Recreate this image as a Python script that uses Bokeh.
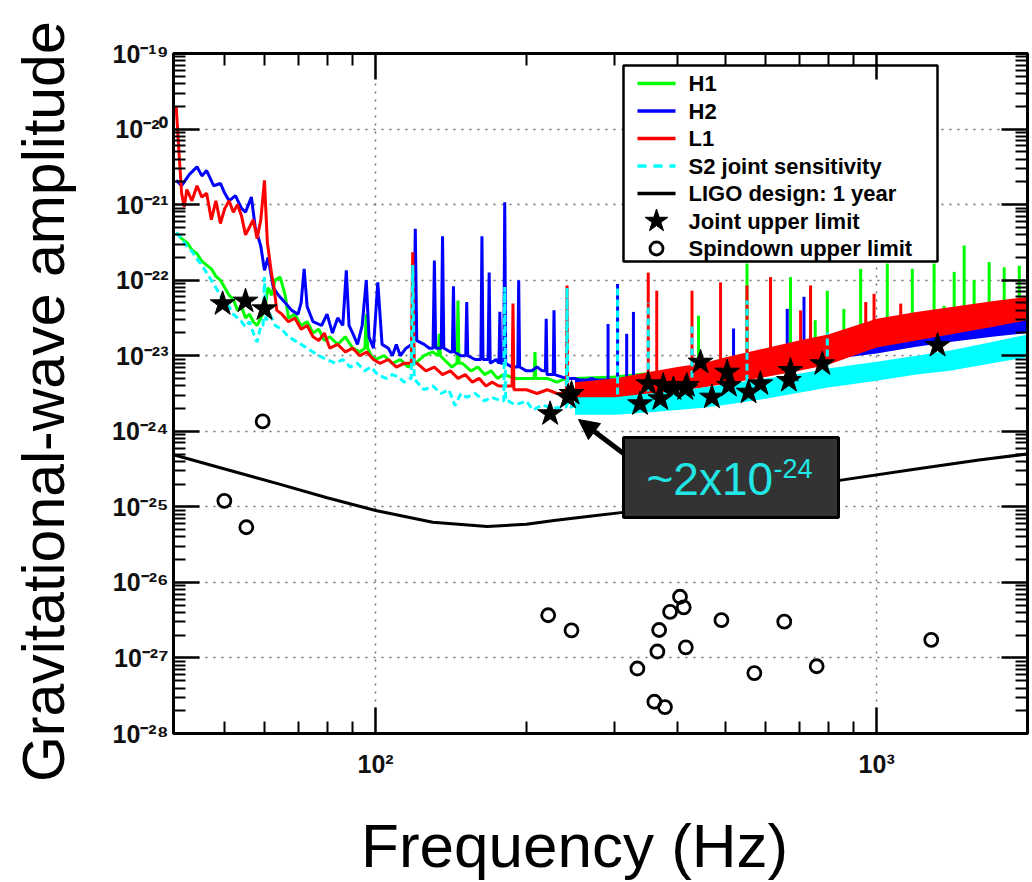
import numpy as np
from bokeh.plotting import figure
from bokeh.models import (FixedTicker, LogAxis, Arrow, NormalHead, Range1d)
from bokeh.core.properties import value
from bokeh.embed import file_html
from bokeh.resources import INLINE

# ---------------- data (amplitudes given as log10 values) ----------------
h1_f = [40, 41, 42, 43, 44, 45, 46, 47, 48, 49, 50, 51, 52, 53, 54, 55, 56, 57, 58, 59, 60, 61, 62, 63,
        64.5, 66, 67, 69, 71, 73, 75, 77, 79, 81, 84, 87, 90, 93, 95.2, 95.8, 96.4, 98, 100, 104, 108, 112,
        116, 120, 125, 130, 133.3, 134, 134.7, 137, 142, 145.3, 146, 146.7, 149, 155, 160, 165, 170, 175,
        180, 190, 200, 207.3, 208, 208.7, 212, 220, 230, 240, 250, 300, 400, 500, 700, 1000, 1400, 2000]
h1_log = [-21.37, -21.45, -21.5, -21.6, -21.65, -21.75, -21.8, -21.85, -21.95, -22.0, -22.1, -22.2, -22.25,
          -22.4, -22.35, -22.5, -22.45, -22.55, -22.6, -22.5, -22.4, -22.1, -22.2, -22.0, -21.96, -22.2,
          -22.5, -22.45, -22.6, -22.55, -22.7, -22.65, -22.8, -22.75, -22.85, -22.75, -22.9, -22.95, -22.9,
          -22.45, -22.9, -23.0, -23.05, -23.0, -23.1, -23.05, -23.15, -23.1, -23.0, -22.95, -23.0, -22.71,
          -23.0, -23.05, -23.15, -23.1, -22.27, -23.1, -23.1, -23.2, -23.15, -23.25, -23.2, -23.3, -23.25,
          -23.3, -23.3, -23.3, -22.95, -23.3, -23.3, -23.3, -23.35, -23.3, -23.3, -23.28, -23.2, -23.05,
          -22.9, -22.7, -22.55, -22.4]
h1_spike_f = [441, 551, 673, 754, 797, 860, 929, 1050, 1178, 1302, 1363, 1428, 1495, 1565, 1677, 1797, 1926]
h1_spike_top = [-22.47, -21.78, -21.96, -22.53, -22.14, -22.38, -21.85, -21.78, -21.85, -21.78, -22.34,
                -21.89, -21.54, -22.0, -21.76, -21.83, -21.81]
h1_spike_base = [-23.2, -23.05, -22.95, -22.9, -22.85, -22.8, -22.75, -22.7, -22.65, -22.6, -22.58, -22.56,
                 -22.54, -22.5, -22.47, -22.43, -22.4]

h2_f = [40, 41, 42.5, 44, 45, 46, 47.5, 49, 50, 51, 52.5, 54, 55, 56.5, 57.5, 59, 60, 61, 62.5, 64, 66, 68,
        70, 71, 72, 73, 75, 78, 80, 82, 84, 86, 87.4, 88.5, 90, 92, 94, 95.8, 97, 99, 101, 103, 106, 108,
        110, 112, 115, 118, 119.2, 120, 120.8, 125, 128, 130.2, 131, 131.8, 135.2, 136, 136.8, 141, 142.3,
        143, 143.7, 148, 151.3, 152, 152.7, 158, 162.2, 163, 163.8, 167.7, 168.5, 169.3, 174, 176.3, 177,
        177.7, 180.2, 181, 181.8, 187, 192.2, 193, 193.8, 200, 205, 210, 215, 218.2, 219, 219.8, 226.2,
        227, 227.8, 240, 250, 260, 270, 280, 300, 350, 400, 450, 500, 600, 700, 800, 1000, 1200, 1400,
        1700, 2000]
h2_log = [-20.68, -20.75, -20.6, -20.5, -20.62, -20.55, -20.75, -20.72, -20.85, -20.95, -20.88, -21.05,
          -21.1, -20.9, -21.3, -21.55, -21.87, -21.7, -22.1, -22.2, -22.3, -22.4, -22.45, -22.3, -21.85,
          -22.35, -22.55, -22.6, -22.45, -22.7, -22.5, -22.6, -21.87, -22.6, -22.7, -22.85, -22.6, -22.0,
          -22.75, -22.9, -22.03, -22.85, -22.9, -23.0, -22.85, -23.0, -22.9, -22.85, -22.8, -21.32, -22.8,
          -22.85, -22.9, -22.9, -21.74, -22.9, -22.9, -21.42, -22.9, -22.95, -22.95, -22.08, -22.95, -23.0,
          -23.0, -22.29, -23.0, -23.05, -23.05, -21.42, -23.05, -23.05, -21.9, -23.1, -23.05, -23.1, -22.42,
          -23.1, -23.1, -20.97, -23.1, -23.15, -23.15, -22.0, -23.15, -23.2, -23.2, -23.15, -23.2, -23.2,
          -22.51, -23.25, -23.25, -22.4, -23.25, -23.3, -23.3, -23.35, -23.3, -23.35, -23.38, -23.33,
          -23.29, -23.25, -23.2, -23.1, -23.02, -22.95, -22.86, -22.78, -22.71, -22.63, -22.57]
h2_spike_f = [291, 304, 317, 327, 518, 663, 716]
h2_spike_top = [-22.58, -22.05, -22.71, -22.42, -22.64, -22.38, -22.22]
h2_spike_base = [-23.36, -23.38, -23.37, -23.36, -23.19, -23.06, -23.02]

l1_f = [40, 40.5, 41, 41.5, 42, 43, 44, 45, 46, 47, 48, 49, 50, 51, 52, 53, 54, 55, 56, 57, 58, 59, 60,
        60.8, 62, 62.7, 63.5, 65, 67, 69, 71, 73, 75, 77, 79, 81, 84, 87, 90, 93, 96, 99, 102, 106, 110,
        114, 117.8, 118.6, 119.4, 121, 126, 131, 136, 141, 146, 151, 156, 161, 166, 171, 176, 181, 184,
        187.2, 188, 188.8, 191, 200, 210, 220, 230, 240.2, 241, 241.8, 245, 250, 300, 350, 400, 450, 500,
        600, 700, 800, 1000, 1200, 1400, 1700, 2000]
l1_log = [-19.71, -20.3, -20.85, -21.03, -20.8, -20.95, -20.75, -20.9, -20.85, -21.2, -20.95, -21.25,
          -21.05, -20.95, -21.1, -21.0, -21.15, -21.4, -21.3, -21.2, -21.45, -21.2, -20.68, -21.5, -21.92,
          -22.1, -22.4, -22.45, -22.55, -22.5, -22.65, -22.6, -22.75, -22.8, -22.7, -22.9, -22.85, -22.95,
          -22.9, -23.0, -22.95, -23.05, -23.1, -23.05, -23.15, -23.1, -23.1, -21.63, -23.1, -23.1, -23.2,
          -23.15, -23.25, -23.2, -23.3, -23.25, -23.35, -23.3, -23.4, -23.35, -23.4, -23.4, -23.4, -23.4,
          -22.31, -23.45, -23.45, -23.45, -23.5, -23.45, -23.5, -23.5, -22.07, -23.5, -23.5, -23.48,
          -23.45, -23.37, -23.31, -23.26, -23.2, -23.09, -23.0, -22.92, -22.7, -22.61, -22.54, -22.45,
          -22.38]
l1_spike_f = [350, 364, 428, 488, 551, 614, 705, 738, 951, 988, 1117]
l1_spike_top = [-21.9, -22.14, -22.14, -22.03, -22.07, -21.96, -22.4, -22.07, -22.29, -22.18, -22.31]
l1_spike_base = [-23.37, -23.35, -23.28, -23.21, -23.14, -23.08, -23.0, -22.98, -22.72, -22.7, -22.65]

s2_f = [40, 41, 42, 43, 44, 45, 46, 47, 48, 49, 50, 51, 52, 53, 54, 55, 56, 57, 58, 59, 59.6, 60, 60.4,
        61.5, 63, 65, 67, 69, 71, 73, 75, 77, 80, 83, 86, 89, 92, 95, 98, 101, 105, 108, 111, 114, 117,
        117.8, 118.6, 119.4, 121, 125, 130, 135, 140, 144, 148, 152, 158, 165, 170, 177, 180.2, 181, 181.8,
        184, 190, 200, 206, 215, 225, 235, 240.2, 241, 241.8, 245, 250, 300, 350, 400, 450, 500, 600, 700,
        800, 1000, 1200, 1400, 1700, 2000]
s2_log = [-21.37, -21.45, -21.55, -21.62, -21.72, -21.8, -21.9, -22.0, -22.1, -22.2, -22.3, -22.35, -22.45,
          -22.5, -22.55, -22.62, -22.55, -22.7, -22.82, -22.6, -22.6, -21.96, -22.53, -22.45, -22.6, -22.65,
          -22.75, -22.8, -22.85, -22.9, -22.95, -23.0, -23.05, -23.1, -23.05, -23.15, -23.1, -23.2, -23.15,
          -23.25, -23.3, -23.25, -23.28, -23.35, -23.3, -23.3, -21.8, -23.3, -23.35, -23.45, -23.4, -23.5,
          -23.45, -23.66, -23.5, -23.55, -23.5, -23.6, -23.55, -23.59, -23.6, -22.09, -23.6, -23.6, -23.65,
          -23.6, -23.72, -23.65, -23.7, -23.68, -23.68, -22.1, -23.68, -23.68, -23.66, -23.66, -23.62,
          -23.6, -23.55, -23.5, -23.43, -23.36, -23.3, -23.2, -23.12, -23.06, -22.96, -22.87]
s2_spike_f = [304, 350, 428, 551, 797]
s2_spike_top = [-22.09, -22.3, -22.57, -22.27, -22.69]
s2_spike_base = [-23.66, -23.62, -23.58, -23.49, -23.3]

# dense-noise bands above ~250 Hz (lower / upper edges)
band_f = [250, 300, 350, 400, 450, 500, 600, 700, 800, 1000, 1200, 1400, 1700, 2000]
l1_band_lo = [-23.62, -23.6, -23.52, -23.47, -23.42, -23.37, -23.28, -23.2, -23.12, -22.89, -22.8, -22.72, -22.62, -22.53]
l1_band_hi = [-23.35, -23.3, -23.22, -23.15, -23.1, -23.02, -22.9, -22.8, -22.72, -22.51, -22.42, -22.36, -22.28, -22.22]
h2_band_lo = [-23.45, -23.45, -23.4, -23.38, -23.35, -23.3, -23.2, -23.12, -23.05, -22.97, -22.88, -22.82, -22.75, -22.7]
h2_band_hi = [-23.3, -23.3, -23.25, -23.2, -23.15, -23.1, -23.0, -22.92, -22.85, -22.75, -22.67, -22.6, -22.52, -22.45]
s2_band_lo = [-23.78, -23.78, -23.75, -23.72, -23.69, -23.65, -23.57, -23.49, -23.42, -23.33, -23.25, -23.2, -23.1, -23.02]
s2_band_hi = [-23.55, -23.55, -23.5, -23.47, -23.42, -23.38, -23.3, -23.24, -23.17, -23.08, -23.0, -22.93, -22.82, -22.72]

design_f = [39.5, 50, 64, 80, 100, 130, 167, 200, 227, 270, 315, 400, 500, 650, 843, 1200, 1600, 2000]
design_log = [-24.31, -24.5, -24.696, -24.88, -25.049, -25.204, -25.26, -25.23, -25.18, -25.12, -25.07,
              -24.97, -24.87, -24.76, -24.65, -24.5, -24.38, -24.30]

joint_f = [49.5, 55, 60, 223, 242, 246, 337, 350, 370, 375, 393, 415, 418, 445, 469, 503, 507, 555, 586,
           668, 673, 779, 1323]
joint_log = [-22.313, -22.278, -22.38, -23.769, -23.549, -23.5, -23.637, -23.372, -23.571, -23.394, -23.438,
             -23.438, -23.394, -23.086, -23.549, -23.218, -23.394, -23.483, -23.372, -23.328, -23.196,
             -23.107, -22.865]

spin_f = [59.5, 49.9, 55.2, 221, 246, 333, 360, 378, 365, 368, 387, 405, 412, 416, 490, 570, 654, 759, 1285]
spin_log = [-23.87, -24.92, -25.27, -26.435, -26.635, -27.14, -27.58, -27.65, -26.915, -26.63, -26.39,
            -26.19, -26.33, -26.86, -26.50, -27.20, -26.52, -27.11, -26.76]

legend_labels = ["H1", "H2", "L1", "S2 joint sensitivity", "LIGO design: 1 year",
                 "Joint upper limit", "Spindown upper limit"]

y_decades = list(range(-28, -18))
x_decades = [2, 3]

# ---------------- helpers ----------------
X0, X1 = 39.5, 2000.0
FRAME_L, FRAME_T, FW, FH = 173, 53, 854, 680


def amp(a):
    return np.power(10.0, np.array(a, dtype=float))


def px_x(page_x):
    lx0, lx1 = np.log10(X0), np.log10(X1)
    return 10 ** (lx0 + (page_x - FRAME_L) / FW * (lx1 - lx0))


def px_y(page_y):
    return 10 ** (-28 + (FRAME_T + FH - page_y) / FH * 9)


SUP = str.maketrans("0123456789-", "\u2070\u00b9\u00b2\u00b3\u2074\u2075\u2076\u2077\u2078\u2079\u207b")


def sup(s):
    return s.translate(SUP)


GREEN, BLUE, RED, CYAN = "#00ff00", "#0000ff", "#ff0000", "#00ffff"
FONT = "Liberation Sans"
NB = "\u00a0"

p = figure(frame_width=FW, frame_height=FH, x_axis_type="log", y_axis_type="log",
           x_range=Range1d(X0, X1), y_range=Range1d(1e-28, 1e-19),
           output_backend="svg", toolbar_location=None,
           min_border_left=FRAME_L, min_border_right=5, min_border_top=FRAME_T, min_border_bottom=149)
p.outline_line_color = "black"
p.outline_line_width = 3
p.background_fill_color = "white"
p.border_fill_color = "white"

y_major = [float("1e%d" % k) for k in y_decades]
y_minor = [m * float("1e%d" % k) for k in y_decades[:-1] for m in range(2, 10)]
x_major = [10 ** k for k in x_decades]
x_minor = [50, 60, 70, 80, 90, 200, 300, 400, 500, 600, 700, 800, 900, 2000]


def style_axis(ax, major, minor, labels=None):
    ax.ticker = FixedTicker(ticks=major, minor_ticks=minor)
    ax.major_tick_in = 26
    ax.major_tick_out = 0
    ax.minor_tick_in = 12
    ax.minor_tick_out = 0
    ax.major_tick_line_width = 2.5
    ax.minor_tick_line_width = 2
    ax.major_tick_line_color = "black"
    ax.minor_tick_line_color = "black"
    ax.axis_line_width = 3
    ax.axis_line_color = "black"
    if labels is None:
        ax.major_label_overrides = {t: "" for t in major}
        ax.major_label_text_font_size = "1px"
        ax.major_label_text_alpha = 0.0
        ax.major_label_standoff = 0
    else:
        ax.major_label_overrides = labels
        ax.major_label_text_font = FONT
        ax.major_label_text_font_style = "bold"
        ax.major_label_text_font_size = "25px"
        ax.major_label_text_color = "#111111"


style_axis(p.xaxis[0], x_major, x_minor, {10 ** k: "10" + sup(str(k)) for k in x_decades})
style_axis(p.yaxis[0], y_major, y_minor, {float("1e%d" % k): "10" + sup(str(k)) for k in y_decades})
p.xaxis[0].major_label_standoff = 16
p.yaxis[0].major_label_standoff = 5

p.yaxis[0].axis_label = "Gravitational-wave amplitude" + NB
p.yaxis[0].axis_label_text_font = FONT
p.yaxis[0].axis_label_text_font_style = "normal"
p.yaxis[0].axis_label_text_font_size = "59px"
p.yaxis[0].axis_label_text_color = "black"
p.yaxis[0].axis_label_standoff = 32

p.xaxis[0].axis_label = "Frequency (Hz)" + NB * 3
p.xaxis[0].axis_label_text_font = FONT
p.xaxis[0].axis_label_text_font_style = "normal"
p.xaxis[0].axis_label_text_font_size = "62px"
p.xaxis[0].axis_label_text_color = "black"
p.xaxis[0].axis_label_standoff = 30

top_ax = LogAxis()
right_ax = LogAxis()
style_axis(top_ax, x_major, x_minor)
style_axis(right_ax, y_major, y_minor)
p.add_layout(top_ax, "above")
p.add_layout(right_ax, "right")

p.xgrid.ticker = FixedTicker(ticks=x_major)
p.ygrid.ticker = FixedTicker(ticks=y_major)
for g in (p.xgrid[0], p.ygrid[0]):
    g.grid_line_color = "#707070"
    g.grid_line_dash = "2 6"
    g.grid_line_width = 1.5

# ---------------- curves ----------------
LW = 3
p.line(h1_f, amp(h1_log), line_color=GREEN, line_width=LW)
p.segment(x0=h1_spike_f, y0=amp(h1_spike_base), x1=h1_spike_f, y1=amp(h1_spike_top), line_color=GREEN, line_width=LW)

p.varea(x=band_f, y1=amp(h2_band_lo), y2=amp(h2_band_hi), fill_color=BLUE, fill_alpha=1.0)
p.line(h2_f, amp(h2_log), line_color=BLUE, line_width=LW)
p.segment(x0=h2_spike_f, y0=amp(h2_spike_base), x1=h2_spike_f, y1=amp(h2_spike_top), line_color=BLUE, line_width=LW)

p.varea(x=band_f, y1=amp(l1_band_lo), y2=amp(l1_band_hi), fill_color=RED, fill_alpha=1.0)
p.line(l1_f, amp(l1_log), line_color=RED, line_width=LW)
p.segment(x0=l1_spike_f, y0=amp(l1_spike_base), x1=l1_spike_f, y1=amp(l1_spike_top), line_color=RED, line_width=LW)

p.varea(x=band_f, y1=amp(s2_band_lo), y2=amp(s2_band_hi), fill_color=CYAN, fill_alpha=1.0)
p.line(s2_f, amp(s2_log), line_color=CYAN, line_width=LW, line_dash="7 4")
p.segment(x0=s2_spike_f, y0=amp(s2_spike_base), x1=s2_spike_f, y1=amp(s2_spike_top), line_color=CYAN,
          line_width=LW, line_dash="7 4")

p.line(design_f, amp(design_log), line_color="black", line_width=3)

p.scatter(joint_f, amp(joint_log), marker="star", size=26, fill_color="black",
          line_color="black", line_width=1)
p.scatter(spin_f, amp(spin_log), marker="circle", size=13, fill_alpha=0.0,
          line_color="black", line_width=2.8)

# ---------------- annotation box ----------------
p.quad(left=[px_x(623)], right=[px_x(838)], bottom=[px_y(517)], top=[px_y(437)],
       fill_color="#333333", line_color="black", line_width=3)
p.text(x=[px_x(646)], y=[px_y(478)], text=["~2x10"], text_color="#22e6e6",
       text_font=value(FONT), text_font_size="46px", text_align="left", text_baseline="middle")
p.text(x=[px_x(773)], y=[px_y(468)], text=["-24"], text_color="#22e6e6",
       text_font=value(FONT), text_font_size="27px", text_align="left", text_baseline="middle")
p.add_layout(Arrow(end=NormalHead(size=20, fill_color="black", line_color="black"),
                   x_start=px_x(623), y_start=px_y(453), x_end=px_x(578), y_end=px_y(419),
                   line_width=5, line_color="black"))

# ---------------- legend (drawn inside the frame) ----------------
row_y = [px_y(83 + 27.5 * i) for i in range(len(legend_labels))]
p.quad(left=[px_x(623)], right=[px_x(937)], bottom=[px_y(261)], top=[px_y(65)],
       fill_color="white", line_color="black", line_width=2.5)
for i, (c, dash) in enumerate([(GREEN, "solid"), (BLUE, "solid"), (RED, "solid"), (CYAN, "9 7"),
                               ("black", "solid")]):
    p.segment(x0=[px_x(637)], y0=[row_y[i]], x1=[px_x(675)], y1=[row_y[i]],
              line_color=c, line_width=3.5, line_dash=dash)
p.scatter([px_x(656)], [row_y[5]], marker="star", size=24, fill_color="black", line_color="black")
p.scatter([px_x(656)], [row_y[6]], marker="circle", size=13, fill_alpha=0.0, line_color="black",
          line_width=2.8)
p.text(x=[px_x(688)] * len(legend_labels), y=row_y, text=legend_labels, text_color="black",
       text_font=value(FONT), text_font_style="bold", text_font_size="22px",
       text_align="left", text_baseline="middle")

open("out.html", "w").write(file_html(p, INLINE))
